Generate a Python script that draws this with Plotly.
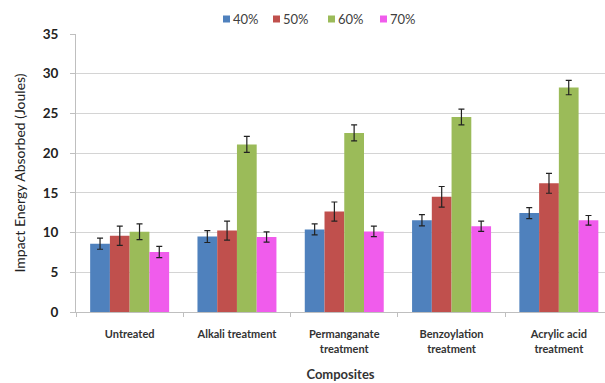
import plotly.graph_objects as go

categories = ["Untreated", "Alkali treatment", "Permanganate<br>treatment",
              "Benzoylation<br>treatment", "Acrylic acid<br>treatment"]
series_names = ["40%", "50%", "60%", "70%"]
values_40 = [8.6, 9.5, 10.4, 11.55, 12.45]
values_50 = [9.6, 10.25, 12.65, 14.5, 16.2]
values_60 = [10.1, 21.1, 22.55, 24.55, 28.25]
values_70 = [7.55, 9.45, 10.15, 10.8, 11.55]
err_40 = [0.7, 0.75, 0.7, 0.7, 0.7]
err_50 = [1.2, 1.2, 1.2, 1.3, 1.25]
err_60 = [1.0, 1.0, 1.0, 1.0, 0.9]
err_70 = [0.7, 0.65, 0.65, 0.65, 0.6]
colors = ["#4F81BD", "#C0504D", "#9BBB59", "#F05CEC"]

W, H = 605, 383
ML, MR, MT, MB = 76, 0, 34, 71
font = "Lato, 'Open Sans', sans-serif"

fig = go.Figure()
for name, vals, errs, col in zip(series_names,
                                 [values_40, values_50, values_60, values_70],
                                 [err_40, err_50, err_60, err_70], colors):
    fig.add_trace(go.Bar(
        x=categories, y=vals, name=name, showlegend=False,
        marker=dict(color=col, line=dict(width=0)),
        error_y=dict(type="data", array=errs, visible=True,
                     color="#222222", thickness=1.2, width=3),
    ))

# compact legend row above the plot: small colour squares followed by labels
legend_px = [226.5, 276.5, 331.5, 383.5]
pw = W - ML - MR
ph = H - MT - MB
leg_y = 1 + (MT - 19) / ph
for name, col, px in zip(series_names, colors, legend_px):
    xp = (px - ML) / pw
    fig.add_shape(type="rect", xref="paper", yref="paper",
                  xsizemode="pixel", ysizemode="pixel",
                  xanchor=xp, yanchor=leg_y, x0=-3.5, x1=3.5, y0=-3.5, y1=3.5,
                  fillcolor=col, line=dict(width=0))
    fig.add_annotation(xref="paper", yref="paper", x=xp, y=leg_y,
                       xanchor="left", yanchor="middle", xshift=4,
                       text=name, showarrow=False,
                       font=dict(size=13, color="#404040", family=font))

fig.update_layout(
    width=W, height=H,
    barmode="group", bargap=0.264, bargroupgap=0,
    plot_bgcolor="white", paper_bgcolor="white",
    margin=dict(l=ML, r=MR, t=MT, b=MB, autoexpand=False),
    font=dict(family=font, color="#333333"),
    xaxis=dict(
        range=[-0.5, 4.43], tickson="boundaries", ticks="outside", ticklen=4,
        tickcolor="#BFBFBF", showline=True, linecolor="#BFBFBF", linewidth=1,
        ticklabelstandoff=12, automargin=False,
        tickfont=dict(size=11, color="#333333", weight="bold"),
        title=dict(text="Composites",
                   font=dict(size=13, color="#333333", weight="bold"),
                   standoff=16),
    ),
    yaxis=dict(
        range=[0, 35], dtick=5, ticks="outside", ticklen=5, tickcolor="#BFBFBF",
        showline=True, linecolor="#BFBFBF", linewidth=1,
        gridcolor="#D4D4D4", gridwidth=1, zeroline=False,
        ticklabelstandoff=9, automargin=False,
        tickfont=dict(size=13.5, color="#222222", weight="bold"),
        title=dict(text="Impact Energy Absorbed (Joules)",
                   font=dict(size=14, color="#222222"), standoff=13),
    ),
)
fig.write_html("out.html")
